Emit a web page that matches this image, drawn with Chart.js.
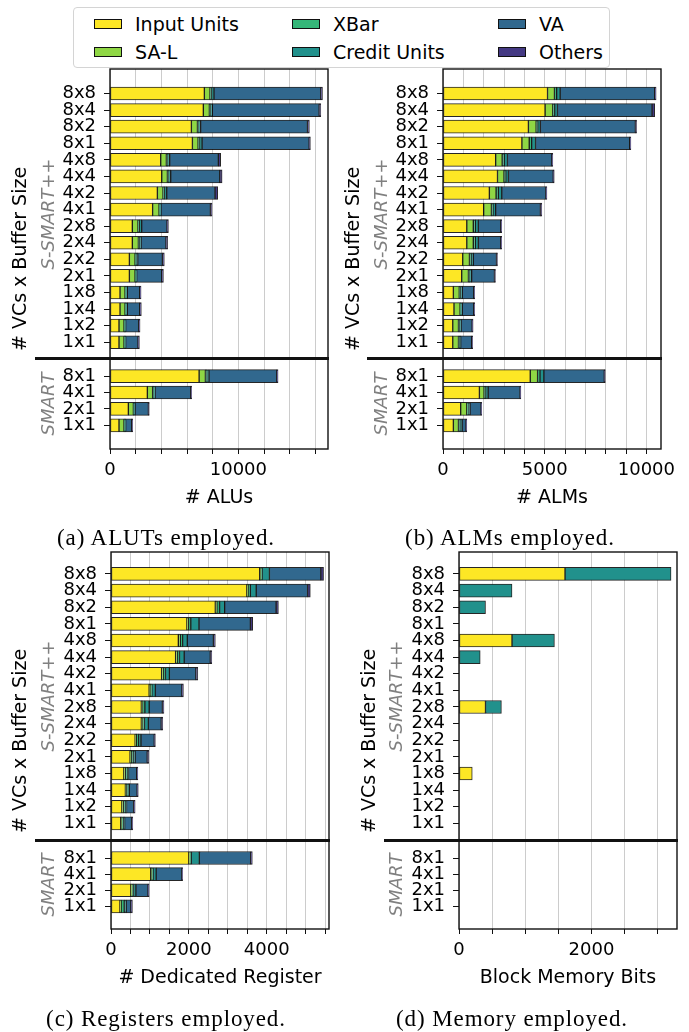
<!DOCTYPE html>
<html>
<head>
<meta charset="utf-8">
<script src="https://cdn.jsdelivr.net/npm/chart.js@4.4.1/dist/chart.umd.min.js"></script>
<style>
  body { margin: 0; width: 689px; height: 1032px; position: relative; overflow: hidden; background: #fff;
         font-family: "DejaVu Sans", sans-serif; }
  canvas { position: absolute; }
  .txt { position: absolute; white-space: nowrap; line-height: 1; }
  .sep { position: absolute; height: 3px; background: #111; z-index: 5; }
  .legend { position: absolute; left: 73px; top: 7px; width: 537px; height: 61px; border: 1px solid #d4d4d4;
            border-radius: 4px; background: #fff; box-sizing: border-box; }
  .legend .sw { position: absolute; width: 28px; height: 10px; border: 1px solid #111; box-sizing: border-box; }
  .legend .lb { position: absolute; font-size: 19px; line-height: 1; transform: translateY(-50%); }
</style>
</head>
<body>
<script>

// series in stacking order
const seriesNames = ["Input Units", "SA-L", "XBar", "Credit Units", "VA", "Others"];
const seriesColors = ["#fde725", "#8fd744", "#35b779", "#21918c", "#31688e", "#443983"];

const sSmartLabels = ["8x8","8x4","8x2","8x1","4x8","4x4","4x2","4x1","2x8","2x4","2x2","2x1","1x8","1x4","1x2","1x1"];
const smartLabels = ["8x1","4x1","2x1","1x1"];

// each row = one series (same order as seriesNames)
const alutsSSmart = [
  [7350,7270,6340,6420,3950,4030,3690,3320,1740,1740,1510,1510,780,780,700,700],
  [440,470,470,440,440,440,440,500,440,470,440,440,390,390,390,390],
  [120,90,100,120,100,100,110,60,110,80,80,50,70,70,50,50],
  [190,140,150,190,160,160,180,90,180,130,130,80,110,110,80,80],
  [8320,8320,8320,8340,3790,3820,3760,3850,1970,1940,1920,1950,960,960,1010,960],
  [130,130,150,100,180,180,210,130,110,130,150,130,110,130,110,110]
];
const alutsSmart = [
  [6940,2910,1430,700],
  [490,410,390,390],
  [110,80,50,50],
  [170,110,80,80],
  [5280,2780,1040,470],
  [100,70,70,80]
];

const almsSSmart = [
  [5140,5020,4200,3880,2590,2680,2280,2000,1170,1170,970,920,510,540,480,480],
  [340,380,380,360,320,320,330,380,320,320,330,330,290,300,280,280],
  [110,90,80,120,100,90,110,80,100,100,80,60,60,40,50,40],
  [170,140,130,190,160,130,170,130,150,150,110,100,90,70,80,70],
  [4650,4650,4670,4630,2180,2200,2170,2200,1100,1100,1140,1120,560,560,540,540],
  [70,130,60,60,50,50,50,70,50,50,50,50,50,50,50,50]
];
const almsSmart = [
  [4290,1790,870,510],
  [360,230,300,250],
  [120,80,60,70],
  [190,120,100,110],
  [2970,1570,540,190],
  [50,40,30,40]
];

const regsSSmart = [
  [3820,3490,2680,1950,1730,1660,1300,980,780,780,620,490,330,370,280,250],
  [20,30,40,40,50,40,40,40,30,30,30,30,40,20,40,20],
  [40,60,70,60,60,60,60,30,60,50,60,50,50,50,50,50],
  [190,150,130,210,120,120,100,90,110,100,60,50,30,30,30,30],
  [1320,1320,1320,1320,670,670,680,680,340,330,340,310,210,200,180,180],
  [70,70,60,60,50,40,50,40,40,40,30,40,30,30,40,30]
];
const regsSmart = [
  [2000,1020,510,230],
  [30,20,30,30],
  [30,40,40,80],
  [210,80,60,50],
  [1320,660,310,120],
  [40,20,30,40]
];

const memSSmart = [
  [1600,0,0,0,800,0,0,0,400,0,0,0,200,0,0,0],
  [0,0,0,0,0,0,0,0,0,0,0,0,0,0,0,0],
  [0,0,0,0,0,0,0,0,0,0,0,0,0,0,0,0],
  [1600,800,400,0,640,320,0,0,240,0,0,0,0,0,0,0],
  [0,0,0,0,0,0,0,0,0,0,0,0,0,0,0,0],
  [0,0,0,0,0,0,0,0,0,0,0,0,0,0,0,0]
];
const memSmart = [
  [0,0,0,0],
  [0,0,0,0],
  [0,0,0,0],
  [0,0,0,0],
  [0,0,0,0],
  [0,0,0,0]
];

// labelled x ticks
const alutsTicks = [0, 10000];
const almsTicks = [0, 5000, 10000];
const regsTicks = [0, 2000, 4000];
const memTicks = [0, 2000];

Chart.defaults.font.family = "'DejaVu Sans', sans-serif";
Chart.defaults.color = "#000";

const subplots = [
  {top: alutsSSmart, bottom: alutsSmart, ticks: alutsTicks, step: 2000, xMax: 16980,
   title: "# ALUs", caption: "(a) ALUTs employed.",
   L: 110, R: 328, T: 69, S: 358, B: 449, topY: [-1.48, 15.95], botY: [-1.10, 4.44],
   yTitleX: 19, groupX: 47.5, sepX: 35, capX: 166, capY: 537},
  {top: almsSSmart, bottom: almsSmart, ticks: almsTicks, step: 1000, xMax: 10720,
   title: "# ALMs", caption: "(b) ALMs employed.",
   L: 443, R: 661, T: 69, S: 358, B: 449, topY: [-1.48, 15.95], botY: [-1.10, 4.44],
   yTitleX: 352, groupX: 380.5, sepX: 367, capX: 510, capY: 537},
  {top: regsSSmart, bottom: regsSmart, ticks: regsTicks, step: 500, xMax: 5600,
   title: "# Dedicated Register", caption: "(c) Registers employed.",
   L: 111, R: 329, T: 552, S: 840, B: 929, topY: [-1.32, 16.0], botY: [-1.12, 4.41],
   yTitleX: 19, groupX: 48, sepX: 35, capX: 166, capY: 1018},
  {top: memSSmart, bottom: memSmart, ticks: memTicks, step: 500, xMax: 3290,
   title: "Block Memory Bits", caption: "(d) Memory employed.",
   L: 459, R: 677, T: 552, S: 840, B: 929, topY: [-1.32, 16.0], botY: [-1.12, 4.41],
   yTitleX: 368, groupX: 396, sepX: 384, capX: 512, capY: 1018}
];

const framePlugin = {
  id: "frame",
  afterDraw(chart){
    const {ctx, chartArea: a} = chart;
    ctx.save();
    ctx.strokeStyle = "#111";
    ctx.lineWidth = 1.4;
    ctx.strokeRect(a.left, a.top, a.right - a.left, a.bottom - a.top);
    ctx.restore();
  }
};

function makePanel(sp, rows, labels, yRange, y0, y1, withAxis){

  const yw = 110, padTop = 3, padRight = 28;
  const xh = withAxis ? 62 : 0;
  const padBottom = withAxis ? 0 : 2;
  const left = sp.L - yw, top = y0 - padTop;
  const w = sp.R + padRight - left;
  const h = (y1 - y0) + padTop + xh + padBottom;

  const gridValues = [];
  for(let v = 0; v < sp.xMax; v += sp.step) gridValues.push(v);

  const canvas = document.createElement("canvas");
  canvas.width = w; canvas.height = h;
  canvas.style.left = left + "px"; canvas.style.top = top + "px";
  canvas.style.width = w + "px"; canvas.style.height = h + "px";
  document.body.appendChild(canvas);

  new Chart(canvas, {
    type: "bar",
    data: {
      datasets: rows.map((vals, s) => ({
        label: seriesNames[s],
        data: vals.map((v, i) => ({x: v, y: i})),
        backgroundColor: seriesColors[s],
        borderColor: "rgba(0,0,0,0.85)",
        borderWidth: 1,
        borderSkipped: false,
        barThickness: 13
      }))
    },
    options: {
      indexAxis: "y",
      responsive: false,
      animation: false,
      layout: {padding: {top: padTop, right: padRight, bottom: padBottom, left: 0}},
      plugins: {legend: {display: false}, tooltip: {enabled: false}},
      scales: {
        x: {
          type: "linear", stacked: true, bounds: "data", offset: false, min: 0, max: sp.xMax,
          afterBuildTicks: s => { s.ticks = gridValues.map(v => ({value: v})); },
          afterFit: s => { s.height = xh; s.paddingLeft = 0; s.paddingRight = 0; },
          ticks: {
            display: withAxis, autoSkip: false, maxRotation: 0,
            padding: 6, font: {size: 18},
            callback: v => sp.ticks.includes(v) ? String(v) : ""
          },
          grid: {offset: false, color: "#cccccc", lineWidth: 1, drawTicks: withAxis, tickLength: 5, tickColor: "#111"},
          border: {display: false},
          title: {display: withAxis, text: sp.title, font: {size: 19}, padding: {top: 0, bottom: 2}}
        },
        y: {
          type: "linear", stacked: true, bounds: "data", offset: false, reverse: true,
          min: yRange[0], max: yRange[1],
          afterBuildTicks: s => { s.ticks = labels.map((l, i) => ({value: i})); },
          afterFit: s => { s.width = yw; s.paddingTop = 0; s.paddingBottom = 0; },
          ticks: {autoSkip: false, padding: 8, font: {size: 18}, callback: v => labels[v]},
          grid: {offset: false, drawOnChartArea: false, drawTicks: true, tickLength: 6, tickColor: "#111"},
          border: {display: false}
        }
      }
    },
    plugins: [framePlugin]
  });

}

function addText(txt, x, y, css, rotate){
  const d = document.createElement("div");
  d.className = "txt";
  d.textContent = txt;
  d.style.cssText += css;
  d.style.left = x + "px";
  d.style.top = y + "px";
  d.style.transform = "translate(-50%,-50%)" + (rotate ? " rotate(-90deg)" : "");
  document.body.appendChild(d);
}

subplots.forEach(sp => {
  makePanel(sp, sp.top, sSmartLabels, sp.topY, sp.T, sp.S, false);
  makePanel(sp, sp.bottom, smartLabels, sp.botY, sp.S, sp.B, true);

  const sep = document.createElement("div");
  sep.className = "sep";
  sep.style.left = sp.sepX + "px";
  sep.style.top = (sp.S - 1.5) + "px";
  sep.style.width = (sp.R + 1 - sp.sepX) + "px";
  document.body.appendChild(sep);

  addText("# VCs x Buffer Size", sp.yTitleX, (sp.T + sp.B) / 2, "font-size:19px;", true);
  addText("S-SMART++", sp.groupX, (sp.T + sp.S) / 2, "font-size:18px;font-style:italic;color:#808080;", true);
  addText("SMART", sp.groupX, (sp.S + sp.B) / 2, "font-size:18px;font-style:italic;color:#808080;", true);
  addText(sp.caption, sp.capX, sp.capY, "font-family:'Liberation Serif',serif;font-size:23px;letter-spacing:0.9px;", false);
});

// legend, three columns filled top to bottom
const legend = document.createElement("div");
legend.className = "legend";
document.body.appendChild(legend);
const colX = [20, 218, 424];
const rowY = [16, 44];
seriesNames.forEach((name, k) => {
  const c = Math.floor(k / 2), r = k % 2;
  const sw = document.createElement("div");
  sw.className = "sw";
  sw.style.left = colX[c] + "px";
  sw.style.top = (rowY[r] - 5) + "px";
  sw.style.background = seriesColors[k];
  legend.appendChild(sw);
  const lb = document.createElement("div");
  lb.className = "lb";
  lb.textContent = name;
  lb.style.left = (colX[c] + 41) + "px";
  lb.style.top = rowY[r] + "px";
  legend.appendChild(lb);
});

</script>
</body>
</html>
